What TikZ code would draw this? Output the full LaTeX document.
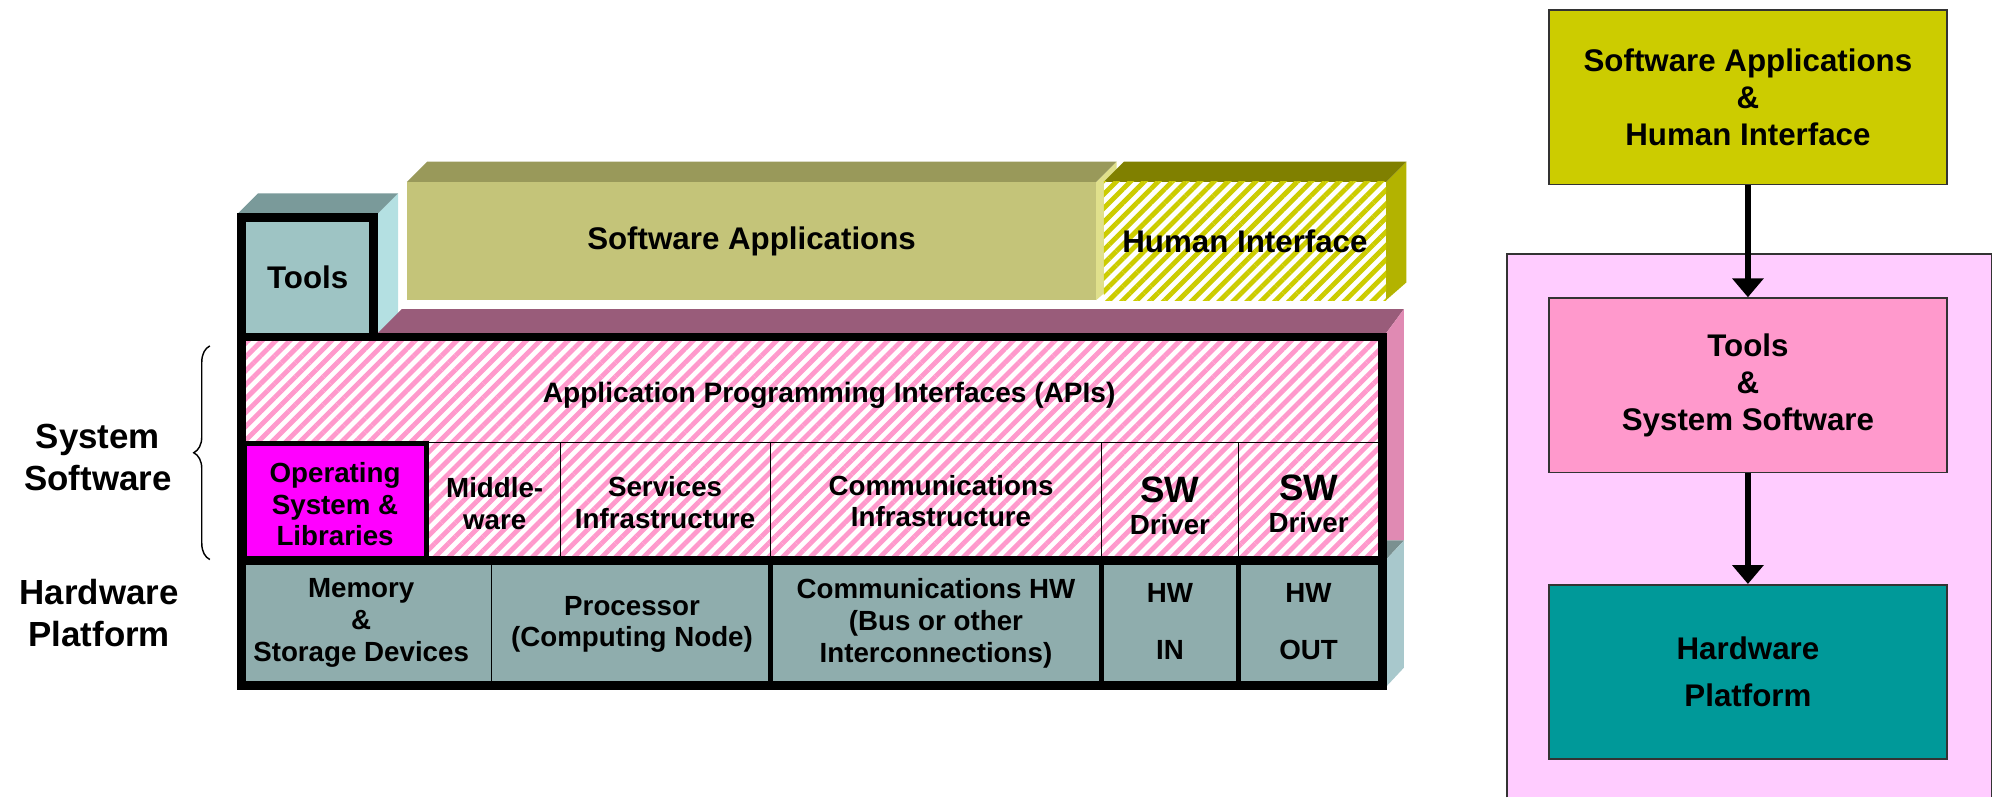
\documentclass[tikz,border=0pt]{standalone}
\usepackage{fontspec}
\setmainfont{Liberation Sans}
\usetikzlibrary{positioning,patterns.meta,decorations.pathreplacing,arrows.meta}

\definecolor{toolsfill}{HTML}{9EC4C4}
\definecolor{toolstop}{HTML}{7A9A9A}
\definecolor{toolsside}{HTML}{B4E0E2}
\definecolor{appfront}{HTML}{C4C479}
\definecolor{apptop}{HTML}{99995A}
\definecolor{appside}{HTML}{E0E08C}
\definecolor{hitop}{HTML}{808000}
\definecolor{hiside}{HTML}{B3B300}
\definecolor{hiline}{HTML}{CCCC00}
\definecolor{syspink}{HTML}{FF99CC}
\definecolor{systop}{HTML}{995C7A}
\definecolor{sysside}{HTML}{E08AB3}
\definecolor{hwfill}{HTML}{8FADAD}
\definecolor{hwside}{HTML}{A8C8CC}
\definecolor{hwtop}{HTML}{7A9090}
\definecolor{osfill}{HTML}{FF00FF}
\definecolor{outerpink}{HTML}{FFCCFF}
\definecolor{hwpfill}{HTML}{009999}

\tikzset{
  big/.style={font=\bfseries\fontsize{17.5}{21}\selectfont, align=center},
  apitxt/.style={font=\bfseries\fontsize{15.7}{18}\selectfont, align=center},
  cell/.style={font=\bfseries\fontsize{15.5}{17.8}\selectfont, align=center},
  side/.style={font=\bfseries\fontsize{19.5}{23.5}\selectfont, align=center},
  pinkhatch/.style={preaction={fill=white}, pattern={Lines[angle=45,distance=5.5pt,line width=2.7pt]}, pattern color=syspink},
  yellowhatch/.style={preaction={fill=white}, pattern={Lines[angle=45,distance=5.5pt,line width=2.7pt]}, pattern color=hiline},
  rbox/.style={draw=black!80, line width=1pt, minimum width=7.825cm, minimum height=3.425cm, align=center, font=\bfseries\fontsize{17.5}{20.6}\selectfont},
  flow/.style={line width=3.7pt, -{Triangle[width=17pt,length=10.5pt]}}
}

\begin{document}
\begin{tikzpicture}[x=0.025cm, y=-0.025cm]
      \useasboundingbox (0,0) rectangle (1568,627);
      % side and top faces of the stack
      \fill[toolsside] (297,168) -- (313,152) -- (313,262) -- (297,262) -- cycle;
      \fill[toolstop] (187,168) -- (203,152) -- (313,152) -- (297,168) -- cycle;
      \fill[systop] (297,262) -- (316,243) -- (1104,243) -- (1090,262) -- cycle;
      \fill[sysside] (1090,262) -- (1104,243) -- (1104,425) -- (1090,425) -- cycle;
      \fill[hwtop] (1090,425) -- (1104,425) -- (1090,440) -- cycle;
      \fill[hwside] (1090,440) -- (1104,425) -- (1104,525) -- (1090,540) -- cycle;
      \fill[appside] (862,143) -- (878,127) -- (878,222) -- (862,236) -- cycle;
      \fill[apptop] (320,143) -- (336,127) -- (878,127) -- (862,143) -- cycle;
      \fill[fill=appfront] (320,143) rectangle (862,236) node (swapp) [pos=.5, big] {Software Applications};
      \fill[hiside] (1090,143) -- (1106,127) -- (1106,222) -- (1090,236) -- cycle;
      \fill[hitop] (868,143) -- (884,127) -- (1106,127) -- (1090,143) -- cycle;
      \fill[yellowhatch] (868,143) rectangle (1090,236) node (hi) [pos=.5, big] {Human Interface};

      % system software layers
      \fill[pinkhatch] (190,265) rectangle (1087,441);
      \fill[fill=toolsfill] (190,171) rectangle (294,265) node (tools) [pos=.5, big] {Tools};
      \fill[hwfill] (190,441) rectangle (1087,539);
      \node (api) [apitxt] at (652,311) {Application Programming Interfaces (APIs)};
      \draw (335,348) -- (1087,348);
      \foreach \x in {441,606,866,974} \draw (\x,348) -- (\x,441);
      \draw[line width=2.8pt, fill=osfill] (192,349) rectangle (335,441) node (os) [pos=.5, cell, yshift=-1pt] {Operating\\System \&\\Libraries};
      \node (mw) [cell] at (389,396) {Middle-\\ware};
      \node (serv) [cell] at (523,395) {Services\\Infrastructure};
      \node (comm) [cell] at (740,394) {Communications\\Infrastructure};
      \node (drva) [cell] at (920,398) {{\fontsize{20.5}{20}\selectfont SW}\\Driver};
      \node (drvb) [cell] at (1029,396) {{\fontsize{20.5}{20}\selectfont SW}\\Driver};

      % hardware layer
      \draw (386,441) -- (386,539);
      \foreach \x in {606,866,974} \draw[line width=2.8pt] (\x,441) -- (\x,539);
      \node (mem) [cell] at (284,490) {Memory\\\&\\Storage Devices};
      \node (proc) [cell] at (497,491) {Processor\\(Computing Node)};
      \node (commhw) [cell] at (736,490) {Communications HW\\(Bus or other\\Interconnections)};
      \node (hwin) [cell] at (920,489) {HW\\[14pt]IN};
      \node (hwout) [cell] at (1029,489) {HW\\[14pt]OUT};

      % thick outline
      \draw[line width=5pt] (190,171) -- (294,171) -- (294,265) -- (1087,265) -- (1087,539) -- (190,539) -- cycle;
      \draw[line width=5pt] (190,265) -- (294,265) (190,441) -- (1087,441);

      % labels on the left
      \node (syssw) [side] at (77,360) {System\\Software};
      \node (hwplat) [side] at (78,482) {Hardware\\Platform};
      \draw[decorate, decoration={brace, amplitude=9pt}, line width=0.8pt] (165,440) -- (165,272);

      % layered view on the right
      \fill[outerpink] (1185,200) rectangle (1566,627);
      \draw[line width=1pt, black!80] (1185,627) -- (1185,200) -- (1566,200) -- (1566,627);
      \node (swhi) [rbox, fill=hiline] at (1374.5,76.5) {Software Applications\\\&\\Human Interface};
      \node (tss) [rbox, fill=syspink, below=2.2cm of swhi] {Tools\\\&\\System Software};
      \node (hwp) [rbox, fill=hwpfill, below=2.175cm of tss] {Hardware\\[6pt]Platform};
      \draw[flow] (swhi) -- (tss);
      \draw[flow] (tss) -- (hwp);
\end{tikzpicture}
\end{document}
